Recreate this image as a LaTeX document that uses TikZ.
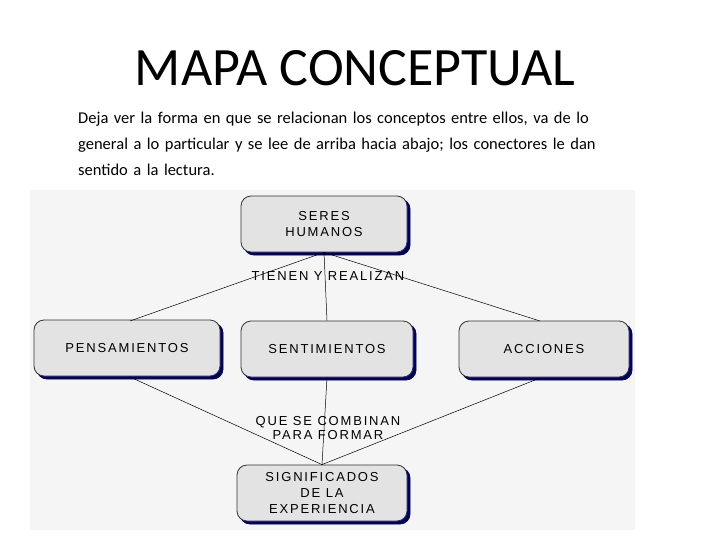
\documentclass[tikz,border=0pt]{standalone}
\usepackage{fontspec}
\usetikzlibrary{shadows}
\setmainfont{Carlito}
\newfontfamily\boxfont[LetterSpace=14]{Liberation Sans}
\begin{document}
\begin{tikzpicture}[x=1pt,y=-1pt,
  concept/.style={draw=black!80,line width=0.8pt,fill=gray!22,rounded corners=10pt,
    font=\boxfont\fontsize{13}{16}\selectfont,align=center,
    copy shadow={shadow xshift=3pt,shadow yshift=-3pt,draw=blue!40!black,fill=blue!40!black,opacity=1}},
  lbl/.style={font=\boxfont\fontsize{13}{14}\selectfont,align=center,inner sep=1pt},
  link/.style={draw=black,line width=0.5pt}]
\useasboundingbox (0,0) rectangle (728,546);
\fill[white] (0,0) rectangle (728,546);
\fill[gray!8] (30,190) rectangle (635,530);
\node[font=\fontsize{54}{60}\selectfont] (title) at (355,68) {MAPA CONCEPTUAL};
\node[anchor=north west,align=left,text width=520,inner sep=0,font=\fontsize{16.5}{26}\selectfont] (para) at (78,112)
 {Deja ver la forma en que se relacionan los conceptos entre ellos, va de lo general a lo particular y se lee de arriba hacia abajo; los conectores le dan sentido a la lectura.};
\node[concept,minimum width=166,minimum height=56] (ser) at (324,224) {SERES\\HUMANOS};
\node[concept,minimum width=186,minimum height=56] (pen) at (127,348) {PENSAMIENTOS};
\node[concept,minimum width=172,minimum height=56] (sen) at (327,349) {SENTIMIENTOS};
\node[concept,minimum width=170,minimum height=56] (acc) at (544,349) {ACCIONES};
\node[concept,minimum width=170,minimum height=56] (sig) at (322,493) {SIGNIFICADOS\\DE LA\\EXPERIENCIA};
\coordinate (pt) at (130,321); \coordinate (at) at (540,321);
\coordinate (pb) at (130,377); \coordinate (ab) at (540,378);
\draw[link] (ser.south) -- (pt);
\draw[link] (ser.south) -- (sen.north);
\draw[link] (ser.south) -- (at);
\draw[link] (pb) -- (sig.north);
\draw[link] (sen.south) -- (sig.north);
\draw[link] (ab) -- (sig.north);
\node[lbl] (l1) at (328,276) {TIENEN Y REALIZAN};
\node[lbl] (l2) at (328,428) {QUE SE COMBINAN\\PARA FORMAR};
\end{tikzpicture}
\end{document}
